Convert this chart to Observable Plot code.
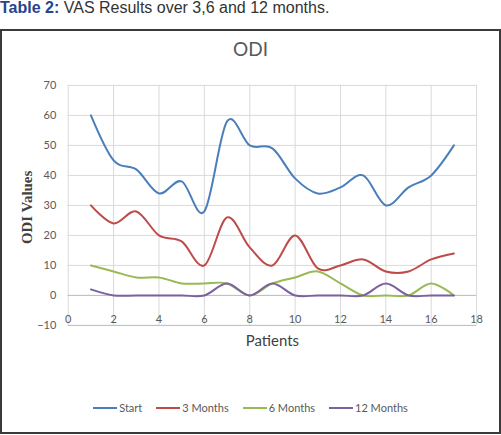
<!DOCTYPE html>
<html>
<head>
<meta charset="utf-8">
<script src="https://cdn.jsdelivr.net/npm/d3@7"></script>
<script src="https://cdn.jsdelivr.net/npm/@observablehq/plot@0.6"></script>
<style>
  body { margin: 0; background: #fff; width: 501px; height: 435px; overflow: hidden; position: relative; }
  .narrow { font-family: Lato, "DejaVu Sans", sans-serif; }
  #caption { position: absolute; left: 0; top: 0; font: 16px/16px "Liberation Sans", Arial, sans-serif; color: #333; white-space: nowrap; }
  #caption b { color: #27448b; }
  #frame { position: absolute; left: 0; top: 29px; width: 497px; height: 401px; border: 2px solid #3a3a3a; }
  #title { position: absolute; left: 0; width: 100%; top: 6px; text-align: center; font-size: 19px; color: #595959; }
  #chart { position: absolute; left: -2px; top: 29px; }
  #legend { position: absolute; left: 0; width: 100%; top: 370px; display: flex; justify-content: center; gap: 14px; font-size: 11px; color: #595959; }
  #legend span.item { display: flex; align-items: center; }
  #legend i { display: inline-block; width: 24px; height: 2px; margin-right: 2px; }
</style>
</head>
<body>
<div id="caption"><b>Table 2:</b> VAS Results over 3,6 and 12 months.</div>
<div id="frame">
  <div id="title" class="narrow">ODI</div>
  <div id="chart"></div>
  <div id="legend" class="narrow"></div>
</div>
<script>
const patients = [1, 2, 3, 4, 5, 6, 7, 8, 9, 10, 11, 12, 13, 14, 15, 16, 17];
const start    = [60, 45, 42, 34, 38, 28, 58, 50, 49, 39, 34, 36, 40, 30, 36, 40, 50];
const months3  = [30, 24, 28, 20, 18, 10, 26, 16, 10, 20, 9, 10, 12, 8, 8, 12, 14];
const months6  = [10, 8, 6, 6, 4, 4, 4, 0, 4, 6, 8, 4, 0, 0, 0, 4, 0];
const months12 = [2, 0, 0, 0, 0, 0, 4, 0, 4, 0, 0, 0, 0, 4, 0, 0, 0];

const seriesNames = ["Start", "3 Months", "6 Months", "12 Months"];
const seriesColors = ["#4a7ebb", "#be4b48", "#98b954", "#7d60a0"];
const xTicks = [0, 2, 4, 6, 8, 10, 12, 14, 16, 18];
const yTicks = [-10, 0, 10, 20, 30, 40, 50, 60, 70];

const rows = [start, months3, months6, months12].flatMap((vals, i) =>
  vals.map((v, j) => ({ patient: patients[j], value: v, series: seriesNames[i] }))
);

const font = 'Lato, "DejaVu Sans", sans-serif';

const chart = Plot.plot({
  width: 501,
  height: 300,
  marginTop: 25,
  marginBottom: 34,
  marginLeft: 68,
  marginRight: 23,
  style: { fontFamily: font, fontSize: "11px", color: "#595959", background: "transparent" },
  x: { domain: [0, 18], axis: null },
  y: { domain: [-10, 70], axis: null },
  color: { domain: seriesNames, range: seriesColors },
  marks: [
    Plot.gridX(xTicks, { stroke: "#d9d9d9", strokeOpacity: 1 }),
    Plot.gridY(yTicks, { stroke: "#d9d9d9", strokeOpacity: 1 }),
    Plot.ruleY([0], { stroke: "#bfbfbf" }),
    Plot.ruleY([-10], { stroke: "#bfbfbf" }),
    Plot.axisY(yTicks, { label: null, tickSize: 0, tickPadding: 12, fill: "#595959", fontSize: 11 }),
    Plot.axisX(xTicks, { label: null, tickSize: 0, tickPadding: 0, dy: -10, fill: "#595959", fontSize: 11 }),
    Plot.line(rows, {
      x: "patient", y: "value", z: "series", stroke: "series",
      curve: "cardinal", tension: 0, strokeWidth: 2
    }),
    Plot.text(["Patients"], { frameAnchor: "bottom", dy: 21, fontSize: 15, fill: "#404040" }),
    Plot.text(["ODI Values"], {
      frameAnchor: "left", textAnchor: "middle", dx: -41, dy: 2, rotate: -90, fontSize: 15, fontWeight: "bold",
      fontFamily: '"Liberation Serif", "DejaVu Serif", serif', fill: "#404040"
    })
  ]
});

d3.select("#chart").append(() => chart);

const legend = d3.select("#legend");
seriesNames.forEach((name, i) => {
  const item = legend.append("span").attr("class", "item");
  item.append("i").style("background", seriesColors[i]);
  item.append("span").text(name);
});
</script>
</body>
</html>
